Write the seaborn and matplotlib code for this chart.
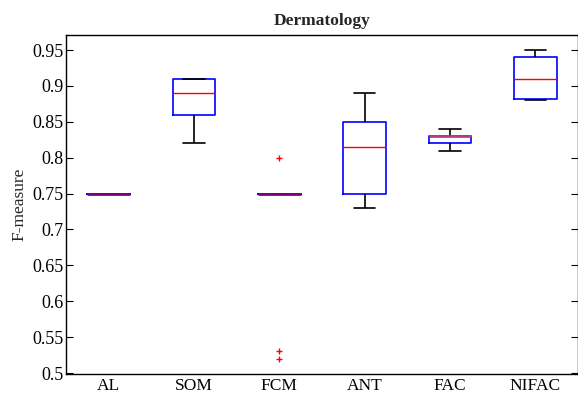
import numpy as np
import pandas as pd
import matplotlib
matplotlib.use("Agg")
import matplotlib.pyplot as plt
import seaborn as sns

# F-measure obtained by each clustering method over ten runs on Dermatology
methods = ["AL", "SOM", "FCM", "ANT", "FAC", "NIFAC"]
al_runs = [0.75, 0.75, 0.75, 0.75, 0.75, 0.75, 0.75, 0.75, 0.75, 0.75]
som_runs = [0.82, 0.84, 0.86, 0.86, 0.88, 0.90, 0.91, 0.91, 0.91, 0.91]
fcm_runs = [0.52, 0.53, 0.75, 0.75, 0.75, 0.75, 0.75, 0.75, 0.75, 0.80]
ant_runs = [0.73, 0.74, 0.75, 0.75, 0.80, 0.83, 0.85, 0.85, 0.87, 0.89]
fac_runs = [0.81, 0.82, 0.82, 0.82, 0.83, 0.83, 0.83, 0.83, 0.83, 0.84]
nifac_runs = [0.88, 0.88, 0.88, 0.89, 0.90, 0.92, 0.94, 0.94, 0.95, 0.95]
y_ticks = [0.5, 0.55, 0.6, 0.65, 0.7, 0.75, 0.8, 0.85, 0.9, 0.95]

runs = [al_runs, som_runs, fcm_runs, ant_runs, fac_runs, nifac_runs]
df = pd.DataFrame({
    "method": np.repeat(methods, [len(r) for r in runs]),
    "F-measure": np.concatenate(runs),
})

sns.set_style("white")
plt.rcParams["font.family"] = ["Liberation Serif", "DejaVu Serif"]

fig = plt.figure(figsize=(5.78, 4.01), dpi=100)
ax = fig.add_axes([0.1142, 0.0673, 0.8858, 0.8454])

sns.boxplot(
    data=df, x="method", y="F-measure", order=methods, ax=ax,
    width=0.5, fill=False, whis=1.5, linewidth=1.2,
    boxprops=dict(color="#0000ff"),
    medianprops=dict(color="#ff0000", linewidth=1.0),
    whiskerprops=dict(color="black"),
    capprops=dict(color="black"),
    flierprops=dict(marker="+", markeredgecolor="#ff0000",
                    markerfacecolor="none", markersize=5, markeredgewidth=1.0),
)

# where the median sits on a box edge the red and blue lines merge
for cont in ax.containers:
    for box, med in zip(cont.boxes, cont.medians):
        yb = box.get_path().vertices[:, 1]
        ym = med.get_ydata()[0]
        on_top = np.isclose(ym, yb.max())
        on_bottom = np.isclose(ym, yb.min())
        if on_top and on_bottom:
            med.set_color("#800080")
        elif on_top or on_bottom:
            med.set_color("#b8407f")
        else:
            continue
        med.set_linewidth(2.0)
        med.set_zorder(5)

ax.set_xlim(-0.5, 5.5)
ax.set_ylim(0.4986, 0.971)
ax.set_yticks(y_ticks)
ax.set_yticklabels([f"{v:g}" for v in y_ticks])
ax.set_xlabel("")
ax.set_ylabel("F-measure", fontsize=12.5, labelpad=3)
ax.set_title("Dermatology", fontsize=12.5, fontweight="bold", pad=7)

for s in ax.spines.values():
    s.set_visible(True)
    s.set_color("black")
    s.set_linewidth(1.0)

ax.tick_params(axis="y", direction="in", length=5, width=0.8, left=True,
               right=True, labelsize=13, colors="black", pad=2)
ax.tick_params(axis="x", length=0, labelsize=12.5, colors="black", pad=3)

fig.savefig("out.png", dpi=100)
